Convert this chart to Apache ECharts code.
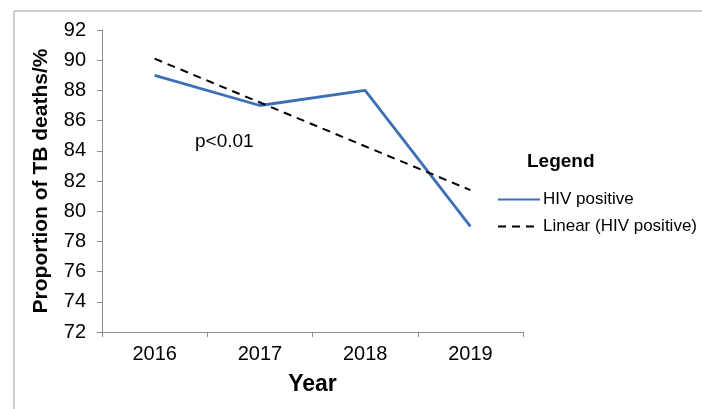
<!DOCTYPE html>
<html>
<head>
<meta charset="utf-8">
<script src="https://cdn.jsdelivr.net/npm/echarts@6/dist/echarts.min.js"></script>
<style>
  html, body { margin: 0; padding: 0; background: #fff; }
  #chart { width: 702px; height: 409px; }
</style>
</head>
<body>
<div id="chart"></div>
<script>
// data
var years = ['2016', '2017', '2018', '2019'];
var hivPositive = [89, 87, 88, 79];
var linearTrend = [90.1, 87.2, 84.3, 81.4];
var yMin = 72, yMax = 92, yStep = 2;

var font = '"Liberation Sans", Arial, sans-serif';
var axisGray = '#8c8c8c';

var chart = echarts.init(document.getElementById('chart'));
chart.setOption({
    animation: false,
    textStyle: {fontFamily: font},
    grid: {left: 102, top: 30, right: 179, bottom: 77, containLabel: false},
    // outer frame + legend title + p-value note
    graphic: [
        {type: 'rect', shape: {x: 14, y: 11, width: 720, height: 420}, style: {fill: 'none', stroke: '#9a9a9a', lineWidth: 1}},
        {type: 'text', left: 527, top: 152, style: {text: 'Legend', font: 'bold 19px ' + font, fill: '#000'}},
        {type: 'text', left: 195, top: 132, style: {text: 'p<0.01', font: '19px ' + font, fill: '#000'}}
    ],
    legend: {
        orient: 'vertical',
        left: 492,
        top: 186,
        itemWidth: 42,
        itemHeight: 14,
        itemGap: 10,
        itemStyle: {opacity: 0},
        textStyle: {fontSize: 17, color: '#000', fontFamily: font, padding: [0, 0, 0, -2]},
        data: ['HIV positive', 'Linear (HIV positive)']
    },
    xAxis: {
        type: 'category',
        data: years,
        boundaryGap: true,
        name: 'Year',
        nameLocation: 'middle',
        nameGap: 41,
        nameTextStyle: {fontSize: 23, fontWeight: 'bold', color: '#000'},
        axisLine: {lineStyle: {color: axisGray, width: 1}},
        axisTick: {show: true, length: 5, lineStyle: {color: axisGray}},
        axisLabel: {fontSize: 20, color: '#000', margin: 12}
    },
    yAxis: {
        type: 'value',
        min: yMin,
        max: yMax,
        interval: yStep,
        name: 'Proportion of TB deaths/%',
        nameLocation: 'middle',
        nameGap: 50,
        nameTextStyle: {fontSize: 21, fontWeight: 'bold', color: '#000'},
        axisLine: {show: true, lineStyle: {color: axisGray, width: 1}},
        axisTick: {show: true, length: 5, lineStyle: {color: axisGray}},
        axisLabel: {fontSize: 20, color: '#000', margin: 16},
        splitLine: {show: false}
    },
    series: [
        {
            name: 'HIV positive',
            type: 'line',
            data: hivPositive,
            symbol: 'none',
            itemStyle: {color: '#3b6fb6'},
            lineStyle: {color: '#3b6fb6', width: 2.8}
        },
        {
            name: 'Linear (HIV positive)',
            type: 'line',
            data: linearTrend,
            symbol: 'none',
            itemStyle: {color: '#000'},
            lineStyle: {color: '#000', width: 2, type: [8, 6]}
        }
    ]
});
</script>
</body>
</html>
